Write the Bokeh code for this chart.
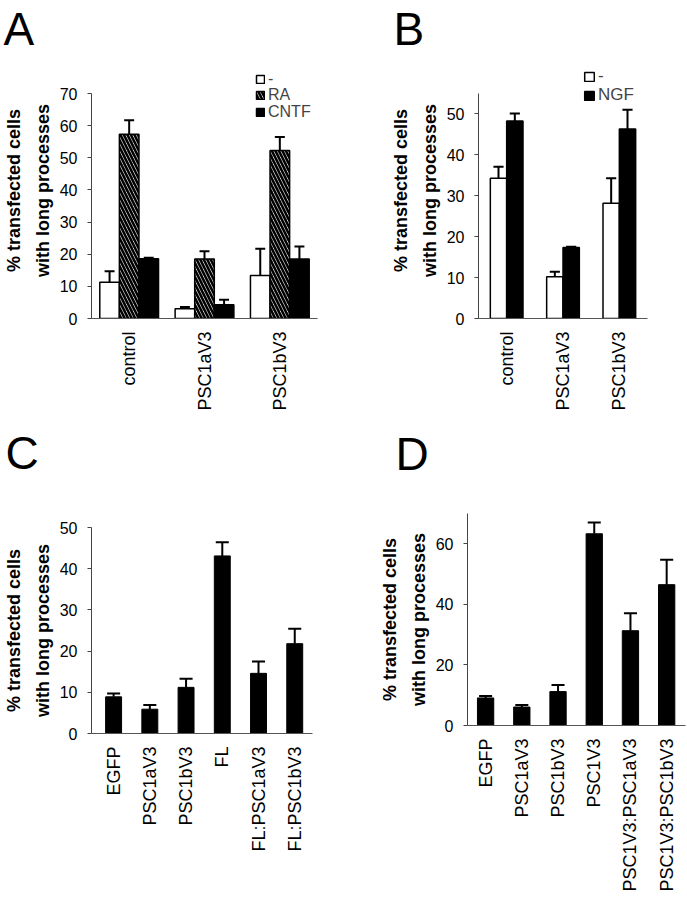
import math
from bokeh.plotting import figure
from bokeh.models import ColumnDataSource, Legend, LegendItem, Label, FixedTicker, Range1d
from bokeh.layouts import column, row
from bokeh.embed import file_html
from bokeh.resources import INLINE

FONT = "Liberation Sans"
YLABEL = "% transfected cells\nwith long processes"

# ---------------- data ----------------
a_categories = ["control", "PSC1aV3", "PSC1bV3"]
a_none = [11.3, 3.0, 13.4]
a_none_err = [3.4, 0.6, 8.3]
a_ra = [57.3, 18.5, 52.3]
a_ra_err = [4.4, 2.4, 4.2]
a_cntf = [18.6, 4.3, 18.5]
a_cntf_err = [0.3, 1.5, 3.9]
a_yticks = [0, 10, 20, 30, 40, 50, 60, 70]

b_categories = ["control", "PSC1aV3", "PSC1bV3"]
b_none = [34.2, 10.2, 28.1]
b_none_err = [2.8, 1.2, 6.1]
b_ngf = [48.2, 17.3, 46.2]
b_ngf_err = [1.8, 0.2, 4.7]
b_yticks = [0, 10, 20, 30, 40, 50]

c_categories = ["EGFP", "PSC1aV3", "PSC1bV3", "FL", "FL:PSC1aV3", "FL:PSC1bV3"]
c_values = [8.9, 5.9, 11.2, 43.1, 14.6, 21.8]
c_err = [0.8, 1.0, 2.1, 3.3, 2.9, 3.6]
c_yticks = [0, 10, 20, 30, 40, 50]

d_categories = ["EGFP", "PSC1aV3", "PSC1bV3", "PSC1V3", "PSC1V3:PSC1aV3", "PSC1V3:PSC1bV3"]
d_values = [9.1, 6.1, 11.2, 63.3, 31.3, 46.5]
d_err = [0.6, 0.7, 2.2, 3.7, 5.8, 8.2]
d_yticks = [0, 20, 40, 60]


def no_align(p):
    if "frame_align" in p.properties():
        p.frame_align = False


def make_fig(width, height, left, right, top, bottom, xr, yr, ybounds, yticks, cats):
    p = figure(width=width, height=height, x_range=Range1d(*xr), y_range=Range1d(*yr),
               output_backend="svg", toolbar_location=None,
               min_border_left=left, min_border_right=right,
               min_border_top=top, min_border_bottom=bottom)
    no_align(p)
    p.outline_line_color = None
    p.xgrid.visible = False
    p.ygrid.visible = False
    p.background_fill_color = "white"
    p.border_fill_color = "white"

    xa = p.xaxis[0]
    xa.ticker = FixedTicker(ticks=list(range(len(cats))))
    xa.major_label_overrides = {i: c for i, c in enumerate(cats)}
    xa.major_tick_out = 0
    xa.major_tick_in = 0
    xa.minor_tick_out = 0
    xa.minor_tick_in = 0
    xa.major_label_orientation = math.pi / 2
    xa.major_label_text_font = FONT
    xa.major_label_text_font_size = "18px"
    xa.major_label_text_color = "black"
    xa.major_label_standoff = 13
    xa.axis_line_color = "#555555"
    xa.axis_line_width = 1

    ya = p.yaxis[0]
    ya.bounds = ybounds
    ya.ticker = FixedTicker(ticks=yticks)
    ya.major_tick_out = 4
    ya.major_tick_in = 0
    ya.minor_tick_out = 0
    ya.minor_tick_in = 0
    ya.major_tick_line_color = "#444444"
    ya.axis_line_color = "#444444"
    ya.major_label_text_font = FONT
    ya.major_label_text_font_size = "16px"
    ya.major_label_text_color = "black"
    ya.major_label_standoff = 10
    ya.axis_label = YLABEL
    ya.axis_label_text_font = FONT
    ya.axis_label_text_font_style = "bold"
    ya.axis_label_text_font_size = "18px"
    ya.axis_label_text_line_height = 1.45
    ya.axis_label_text_color = "black"
    ya.axis_label_standoff = 4
    return p


def letter_fig(width, height, text, x, y):
    p = figure(width=width, height=height, x_range=Range1d(0, width), y_range=Range1d(0, height),
               output_backend="svg", toolbar_location=None,
               min_border_left=0, min_border_right=0, min_border_top=0, min_border_bottom=0)
    no_align(p)
    p.axis.visible = False
    p.grid.visible = False
    p.outline_line_color = None
    p.add_layout(Label(x=x, y=y, x_units="screen", y_units="screen", text=text,
                       text_font=FONT, text_font_size="46px", text_color="black",
                       text_baseline="alphabetic", text_align="left"))
    return p


def error_bars(p, xs, vals, errs, half):
    src = ColumnDataSource(dict(
        x=xs, y0=vals, y1=[v + e for v, e in zip(vals, errs)],
        xl=[x - half for x in xs], xr=[x + half for x in xs]))
    p.segment(x0="x", y0="y0", x1="x", y1="y1", source=src, line_color="black", line_width=2)
    p.segment(x0="xl", y0="y1", x1="xr", y1="y1", source=src, line_color="black", line_width=2)


def legend_row(p, label, renderer, vx, vy, gw, gh, standoff, size):
    leg = Legend(items=[LegendItem(label=label, renderers=[renderer])],
                 location=(vx, vy), glyph_width=gw, glyph_height=gh, label_height=10,
                 label_standoff=standoff, padding=0, margin=0, spacing=0,
                 label_text_font=FONT, label_text_font_size=size,
                 border_line_alpha=0, background_fill_alpha=0)
    p.add_layout(leg)


TOP_LETTER_H = 60
TOP_H = 425 - TOP_LETTER_H

# ---------------- Panel A ----------------
pA = make_fig(340, TOP_H, 91, 23, 2, 107, (-0.5, 2.5), (0, 79.65), (0, 70),
              a_yticks, a_categories)
wA = 0.26
idxA = list(range(len(a_categories)))
xA0 = [i - wA for i in idxA]
xA1 = idxA
xA2 = [i + wA for i in idxA]
rA0 = pA.vbar(x=xA0, top=a_none, bottom=0, width=wA, fill_color="white",
              line_color="black", line_width=1.5)
rA1 = pA.vbar(x=xA1, top=a_ra, bottom=0, width=wA, fill_color="white",
              line_color="black", line_width=1.5, hatch_pattern="\\",
              hatch_color="black", hatch_scale=7, hatch_weight=2.6)
rA2 = pA.vbar(x=xA2, top=a_cntf, bottom=0, width=wA, fill_color="black",
              line_color="black", line_width=1.5)
error_bars(pA, xA0, a_none, a_none_err, 0.066)
error_bars(pA, xA1, a_ra, a_ra_err, 0.066)
error_bars(pA, xA2, a_cntf, a_cntf_err, 0.066)
legend_row(pA, "-", rA0, 164, 230.5, 10, 10, 3, "16px")
legend_row(pA, "RA", rA1, 164, 214, 10, 10, 3, "16px")
legend_row(pA, "CNTF", rA2, 164, 197.5, 10, 10, 3, "16px")
lA = letter_fig(340, TOP_LETTER_H, "A", 3, 32)

# ---------------- Panel B ----------------
pB = make_fig(347, TOP_H, 138, 40, 2, 107, (-0.5, 2.5), (0, 62.44), (0, 55),
              b_yticks, b_categories)
wB = 0.29
idxB = list(range(len(b_categories)))
xB0 = [i - wB / 2 for i in idxB]
xB1 = [i + wB / 2 for i in idxB]
rB0 = pB.vbar(x=xB0, top=b_none, bottom=0, width=wB, fill_color="white",
              line_color="black", line_width=1.5)
rB1 = pB.vbar(x=xB1, top=b_ngf, bottom=0, width=wB, fill_color="black",
              line_color="black", line_width=1.5)
error_bars(pB, xB0, b_none, b_none_err, 0.09)
error_bars(pB, xB1, b_ngf, b_ngf_err, 0.09)
legend_row(pB, "-", rB0, 105, 231.7, 12, 11, 3, "17px")
legend_row(pB, "NGF", rB1, 105, 212.7, 12, 11, 3, "17px")
lB = letter_fig(347, TOP_LETTER_H, "B", 53, 32)

BOT_LETTER_H = 56
BOT_H = 899 - 425 - BOT_LETTER_H

# ---------------- Panel C ----------------
pC = make_fig(340, BOT_H, 91, 28, 46, 166, (-0.61, 5.49), (0, 50), (0, 50), c_yticks, c_categories)
xC = list(range(len(c_categories)))
pC.vbar(x=xC, top=c_values, bottom=0, width=0.44, fill_color="black",
        line_color="black", line_width=1)
error_bars(pC, xC, c_values, c_err, 0.18)
lC = letter_fig(340, BOT_LETTER_H, "C", 5, 28.5)

# ---------------- Panel D ----------------
pD = make_fig(347, BOT_H, 127, 2, 32, 174, (-0.5, 5.52), (0, 70), (0, 70), d_yticks, d_categories)
xD = list(range(len(d_categories)))
pD.vbar(x=xD, top=d_values, bottom=0, width=0.45, fill_color="black",
        line_color="black", line_width=1)
error_bars(pD, xD, d_values, d_err, 0.18)
lD = letter_fig(347, BOT_LETTER_H, "D", 55, 28)

layout = column(row(column(lA, pA), column(lB, pB)),
                row(column(lC, pC), column(lD, pD)))

open("out.html", "w").write(file_html(layout, INLINE))
